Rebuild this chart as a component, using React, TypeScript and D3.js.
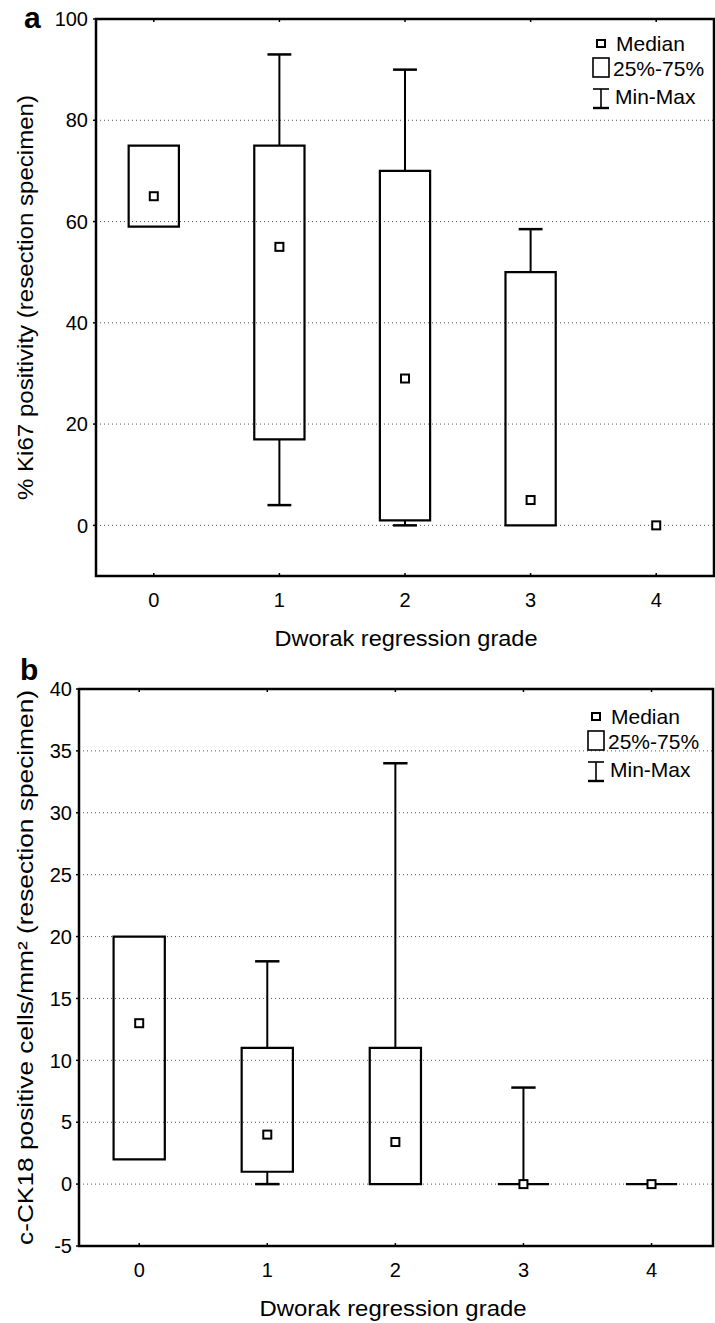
import React from 'react'
import * as d3 from 'd3'

// Dworak regression grades
const grades = [0, 1, 2, 3, 4]

// panel a: % Ki67 positivity
const ki67Min = [59, 4, 0, 0, null]
const ki67Q1 = [59, 17, 1, 0, null]
const ki67Median = [65, 55, 29, 5, 0]
const ki67Q3 = [75, 75, 70, 50, null]
const ki67Max = [75, 93, 90, 58.5, null]
const ki67Ticks = [0, 20, 40, 60, 80, 100]

// panel b: c-CK18 positive cells/mm²
const ck18Min = [2, 0, 0, 0, 0]
const ck18Q1 = [2, 1, 0, 0, 0]
const ck18Median = [13, 4, 3.4, 0, 0]
const ck18Q3 = [20, 11, 11, 0, 0]
const ck18Max = [20, 18, 34, 7.8, 0]
const ck18Ticks = [-5, 0, 5, 10, 15, 20, 25, 30, 35, 40]

const FONT = '"Liberation Sans", Arial, Helvetica, sans-serif'

type Frame = { left: number; top: number; right: number; bottom: number }

const Legend = ({ x, y }: { x: number; y: number }) => (
  <g transform={`translate(${x},${y})`} fontFamily={FONT} fontSize={21}>
    <rect x={1} y={-4} width={8} height={7} fill="white" stroke="black" strokeWidth={2} />
    <text x={20} y={7}>Median</text>
    <rect x={-3} y={14} width={16} height={19} fill="none" stroke="black" strokeWidth={1.6} />
    <text x={17} y={32}>25%-75%</text>
    <line x1={5} x2={5} y1={45} y2={64} stroke="black" strokeWidth={1.6} />
    <line x1={-3} x2={13} y1={45} y2={45} stroke="black" strokeWidth={1.6} />
    <line x1={-3} x2={13} y1={64} y2={64} stroke="black" strokeWidth={2.4} />
    <text x={19} y={60}>Min-Max</text>
  </g>
)

const BoxPanel = ({
  frame, domain, xPad, ticks, grid, mins, q1s, medians, q3s, maxs,
  yLabel, yLabelLen, xLabelX, xLabelLen, letter, letterX, letterY, tickGap, legend,
}: {
  frame: Frame; domain: [number, number]; xPad: [number, number]; ticks: number[]; grid: number[]
  mins: (number | null)[]; q1s: (number | null)[]; medians: number[]; q3s: (number | null)[]; maxs: (number | null)[]
  yLabel: string; yLabelLen: number; xLabelX: number; xLabelLen: number
  letter: string; letterX: number; letterY: number; tickGap: number; legend: [number, number]
}) => {
  const x = d3.scaleLinear().domain([grades[0] - xPad[0], grades[grades.length - 1] + xPad[1]]).range([frame.left, frame.right])
  const y = d3.scaleLinear().domain(domain).range([frame.bottom, frame.top])
  const step = x(1) - x(0)
  const boxW = step * 0.4
  const capW = step * 0.19
  const yMid = (frame.top + frame.bottom) / 2

  return (
    <g fontFamily={FONT}>
      {grid.map(v => (
        <line key={'g' + v} x1={frame.left} x2={frame.right} y1={y(v)} y2={y(v)}
          stroke="#555" strokeWidth={1} strokeDasharray="1 3" />
      ))}
      {grades.map((g, i) => {
        const cx = x(g)
        const q1 = q1s[i], q3 = q3s[i], mn = mins[i], mx = maxs[i]
        const x0 = cx - boxW / 2, x1 = cx + boxW / 2
        return (
          <g key={g}>
            {mx != null && q3 != null && mx > q3 && (
              <>
                <line x1={cx} x2={cx} y1={y(q3)} y2={y(mx)} stroke="black" strokeWidth={2} />
                <line x1={cx - capW / 2} x2={cx + capW / 2} y1={y(mx)} y2={y(mx)} stroke="black" strokeWidth={2.5} />
              </>
            )}
            {mn != null && q1 != null && mn < q1 && (
              <>
                <line x1={cx} x2={cx} y1={y(q1)} y2={y(mn)} stroke="black" strokeWidth={2} />
                <line x1={cx - capW / 2} x2={cx + capW / 2} y1={y(mn)} y2={y(mn)} stroke="black" strokeWidth={2.5} />
              </>
            )}
            {q1 != null && q3 != null && (
              <path d={`M${x0},${y(q3)}H${x1}V${y(q1)}H${x0}Z`}
                fill="none" stroke="black" strokeWidth={2.2} />
            )}
            <rect x={cx - 4} y={y(medians[i]) - 4} width={8} height={8} fill="white" stroke="black" strokeWidth={2} />
          </g>
        )
      })}
      <rect x={frame.left} y={frame.top} width={frame.right - frame.left} height={frame.bottom - frame.top}
        fill="none" stroke="black" strokeWidth={2.5} />
      {ticks.map(v => (
        <g key={'t' + v}>
          <line x1={frame.left - 3} x2={frame.left} y1={y(v)} y2={y(v)} stroke="black" strokeWidth={1.5} />
          <text x={frame.left - tickGap} y={y(v)} dy="0.36em" textAnchor="end" fontSize={20}>{v}</text>
        </g>
      ))}
      {grades.map(g => (
        <g key={'x' + g}>
          <line x1={x(g)} x2={x(g)} y1={frame.top} y2={frame.top + 3} stroke="black" strokeWidth={1.5} />
          <line x1={x(g)} x2={x(g)} y1={frame.bottom} y2={frame.bottom - 3} stroke="black" strokeWidth={1.5} />
          <text x={x(g)} y={frame.bottom + 24} dy="0.36em" textAnchor="middle" fontSize={20}>{g}</text>
        </g>
      ))}
      <text x={xLabelX} y={frame.bottom + 70} textAnchor="middle" fontSize={22}
        textLength={xLabelLen} lengthAdjust="spacingAndGlyphs">Dworak regression grade</text>
      <text transform={`translate(33,${yMid}) rotate(-90)`} textAnchor="middle" fontSize={22}
        textLength={yLabelLen} lengthAdjust="spacingAndGlyphs">{yLabel}</text>
      <text x={letterX} y={letterY} fontSize={30} fontWeight="bold">{letter}</text>
      <Legend x={legend[0]} y={legend[1]} />
    </g>
  )
}

export default function App() {
  return (
    <svg width={715} height={1323} style={{ position: 'absolute', left: 0, top: 0, background: 'white' }}>
      <BoxPanel
        frame={{ left: 96, top: 19, right: 714, bottom: 576 }}
        domain={[-10, 100]} xPad={[0.46, 0.46]} ticks={ki67Ticks} grid={[0, 20, 40, 60, 80]}
        mins={ki67Min} q1s={ki67Q1} medians={ki67Median} q3s={ki67Q3} maxs={ki67Max}
        yLabel="% Ki67 positivity (resection specimen)" yLabelLen={405}
        xLabelX={406} xLabelLen={263} letter="a" letterX={24} letterY={28} tickGap={8}
        legend={[596, 44]}
      />
      <BoxPanel
        frame={{ left: 79, top: 689, right: 713, bottom: 1246 }}
        domain={[-5, 40]} xPad={[0.47, 0.48]} ticks={ck18Ticks} grid={[0, 5, 10, 15, 20, 25, 30, 35]}
        mins={ck18Min} q1s={ck18Q1} medians={ck18Median} q3s={ck18Q3} maxs={ck18Max}
        yLabel="c-CK18 positive cells/mm² (resection specimen)" yLabelLen={555}
        xLabelX={393} xLabelLen={267} letter="b" letterX={20} letterY={680} tickGap={7}
        legend={[591, 717]}
      />
    </svg>
  )
}
